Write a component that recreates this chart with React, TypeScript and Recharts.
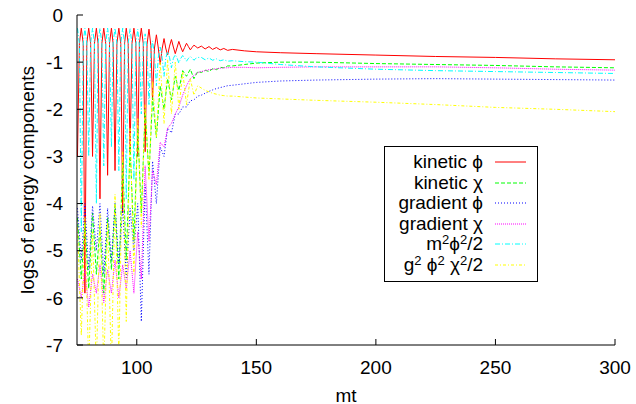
import { LineChart, Line, XAxis, YAxis, Legend } from 'recharts'

// early oscillating stage: fine grid (quarter period) for kinetic phi and potential
const tFine = [
  75.2, 76.0, 76.8, 77.6, 78.3, 79.1, 79.9, 80.7, 81.5, 82.3,
  83.1, 83.8, 84.6, 85.4, 86.2, 87.0, 87.8, 88.6, 89.4, 90.1,
  90.9, 91.7, 92.5, 93.3, 94.1, 94.9, 95.6, 96.4, 97.2, 98.0,
  98.8, 99.6, 100.4, 101.1, 101.9, 102.7, 103.5, 104.3, 105.1, 105.9,
  106.6, 107.4, 108.2, 109.0, 109.8, 110.6, 111.4, 112.1, 112.9, 113.7,
  114.5, 115.3, 116.1, 116.9, 117.6, 118.4, 119.2, 120.0, 120.8, 121.6,
  122.4, 123.1, 123.9, 124.7, 125.5,
]
// half period grid for the other components
const tCoarse = [
  75.2, 76.8, 78.3, 79.9, 81.5, 83.1, 84.6, 86.2, 87.8, 89.4,
  90.9, 92.5, 94.1, 95.6, 97.2, 98.8, 100.4, 101.9, 103.5, 105.1,
  106.6, 108.2, 109.8, 111.4, 112.9, 114.5, 116.1, 117.6, 119.2, 120.8,
  122.4, 123.9, 125.5,
]
const tTail = [127, 128.6, 130.2, 131.7, 133.3, 134.9, 136.4, 138, 140, 145, 150, 160, 175, 200, 225, 250, 275, 300]

const kineticPhiEarly = [
  -3.0, -0.6, -0.28, -0.6, -5.9, -0.6, -0.28, -0.6, -3.0, -0.6,
  -0.28, -0.6, -3.9, -0.6, -0.28, -0.6, -3.4, -0.6, -0.28, -0.6,
  -3.3, -0.6, -0.28, -0.6, -4.2, -0.6, -0.28, -0.6, -2.9, -0.6,
  -0.28, -0.6, -3.0, -0.6, -0.28, -0.6, -2.9, -0.62, -0.3, -0.65,
  -1.8, -0.7, -0.42, -0.7, -1.05, -0.72, -0.5, -0.7, -0.85, -0.66,
  -0.52, -0.68, -0.82, -0.68, -0.56, -0.68, -0.78, -0.69, -0.6, -0.67,
  -0.74, -0.69, -0.64, -0.67, -0.7,
]
const kineticPhiLate = [-0.66, -0.72, -0.67, -0.73, -0.69, -0.74, -0.71, -0.75, -0.73, -0.76, -0.78, -0.8, -0.82, -0.85, -0.88, -0.9, -0.93, -0.95]

const potentialEarly = [
  -0.28, -0.6, -4.6, -0.6, -0.28, -0.6, -3.0, -0.6, -0.28, -0.6,
  -4.0, -0.6, -0.28, -0.6, -3.2, -0.6, -0.28, -0.6, -2.8, -0.6,
  -0.28, -0.6, -3.3, -0.6, -0.28, -0.6, -3.9, -0.6, -0.29, -0.62,
  -3.5, -0.64, -0.3, -0.66, -2.1, -0.7, -0.4, -0.75, -1.9, -0.8,
  -0.55, -0.85, -1.5, -0.9, -0.68, -0.9, -1.3, -0.92, -0.78, -0.9,
  -1.12, -0.92, -0.84, -0.92, -1.02, -0.92, -0.86, -0.91, -0.98, -0.92,
  -0.88, -0.91, -0.96, -0.92, -0.9,
]
const potentialLate = [-0.9, -0.95, -0.91, -0.96, -0.93, -0.97, -0.95, -0.98, -0.97, -0.99, -1.0, -1.05, -1.1, -1.15, -1.18, -1.2, -1.22, -1.24]

const kineticChiEarly = [
  -4.3, -5.6, -4.4, -5.8, -4.2, -5.5, -4.5, -5.9, -4.3, -5.4,
  -4.0, -5.6, -3.1, -5.2, -2.8, -4.8, -2.4, -4.2, -2.0, -3.4,
  -1.75, -2.6, -1.5, -2.0, -1.35, -1.8, -1.3, -1.6, -1.18, -1.3,
  -1.15, -1.35, -1.2,
]
const kineticChiLate = [-1.22, -1.17, -1.2, -1.14, -1.16, -1.11, -1.12, -1.08, -1.08, -1.05, -1.02, -1.0, -1.0, -1.03, -1.05, -1.07, -1.1, -1.12]

const gradPhiEarly = [
  -4.1, -5.2, -4.0, -5.4, -4.05, -5.0, -4.0, -5.5, -4.1, -5.2,
  -4.0, -5.3, -4.05, -5.6, -4.1, -5.0, -4.0, -6.5, -3.6, -5.5,
  -3.1, -4.0, -2.8, -3.0, -2.4, -2.5, -2.1, -2.1, -1.95, -1.95,
  -1.82, -1.8, -1.72,
]
const gradPhiLate = [-1.7, -1.66, -1.62, -1.59, -1.56, -1.54, -1.52, -1.5, -1.49, -1.46, -1.43, -1.4, -1.38, -1.36, -1.35, -1.36, -1.37, -1.38]

const gradChiEarly = [
  -5.6, -6.0, -5.4, -6.2, -5.5, -5.9, -5.3, -6.1, -5.4, -5.9,
  -5.2, -6.0, -5.3, -5.8, -5.0, -5.9, -4.6, -5.6, -3.2, -4.8,
  -3.3, -3.6, -2.7, -2.8, -2.4, -2.3, -2.1, -1.95, -1.7, -1.5,
  -1.35, -1.28, -1.22,
]
const gradChiLate = [-1.2, -1.18, -1.16, -1.15, -1.14, -1.13, -1.12, -1.12, -1.11, -1.11, -1.12, -1.11, -1.1, -1.1, -1.1, -1.12, -1.15, -1.17]

const interactionEarly = [
  -4.5, -6.8, -4.3, -7.5, -4.6, -7.5, -4.2, -7.5, -4.4, -7.5,
  -3.8, -7.2, -2.9, -6.5, -2.4, -5.5, -2.2, -4.5, -1.9, -3.5,
  -1.4, -2.6, -1.0, -2.3, -0.95, -2.1, -1.0, -2.0, -1.2, -1.9,
  -1.35, -1.7, -1.5,
]
const interactionLate = [-1.55, -1.6, -1.63, -1.66, -1.68, -1.7, -1.71, -1.72, -1.72, -1.74, -1.76, -1.78, -1.81, -1.85, -1.9, -1.96, -2.0, -2.05]

const xTicks = [100, 150, 200, 250, 300]
const yTicks = [0, -1, -2, -3, -4, -5, -6, -7]

const zip = (t: number[], v: number[]) => t.map((x, i) => ({ t: x, v: v[i] }))

const FONT = '"Liberation Sans", Arial, Helvetica, sans-serif'
const PHI = '\u03D5'
const CHI = '\u03C7'

const series = [
  { key: 'kphi', color: '#ff0000', dash: undefined, data: [...zip(tFine, kineticPhiEarly), ...zip(tTail, kineticPhiLate)] },
  { key: 'kchi', color: '#00ff00', dash: '4 2', data: [...zip(tCoarse, kineticChiEarly), ...zip(tTail, kineticChiLate)] },
  { key: 'gphi', color: '#0000ff', dash: '1 2', data: [...zip(tCoarse, gradPhiEarly), ...zip(tTail, gradPhiLate)] },
  { key: 'gchi', color: '#ff00ff', dash: '1 1', data: [...zip(tCoarse, gradChiEarly), ...zip(tTail, gradChiLate)] },
  { key: 'pot', color: '#00ffff', dash: '5 2 1 2', data: [...zip(tFine, potentialEarly), ...zip(tTail, potentialLate)] },
  { key: 'int', color: '#ffff00', dash: '3 2 1 2', data: [...zip(tCoarse, interactionEarly), ...zip(tTail, interactionLate)] },
]

const sup = (s: string) => (
  <span style={{ fontSize: 13, position: 'relative', top: -6, lineHeight: 0 }}>{s}</span>
)

const legendLabels = [
  <>kinetic {PHI}</>,
  <>kinetic {CHI}</>,
  <>gradient {PHI}</>,
  <>gradient {CHI}</>,
  <>m{sup('2')}{PHI}{sup('2')}/2</>,
  <>g{sup('2')} {PHI}{sup('2')} {CHI}{sup('2')}/2</>,
]

function LegendBox() {
  return (
    <div
      style={{
        border: '1px solid #000',
        background: '#fff',
        width: 152,
        height: 129,
        paddingTop: 5,
        boxSizing: 'content-box',
        fontFamily: FONT,
        fontSize: 19,
        color: '#000',
      }}
    >
      {series.map((s, i) => (
        <div key={s.key} style={{ display: 'flex', alignItems: 'center', height: 20.5, lineHeight: '20.5px' }}>
          <div style={{ width: 98, textAlign: 'right', whiteSpace: 'nowrap' }}>{legendLabels[i]}</div>
          <svg width={31} height={20} style={{ marginLeft: 12 }}>
            <line x1={0} x2={31} y1={10} y2={10} stroke={s.color} strokeWidth={1} strokeDasharray={s.dash} />
          </svg>
        </div>
      ))}
    </div>
  )
}

function YLabel(props: any) {
  const vb = props.viewBox || { x: 0, y: 15, width: 77, height: 330 }
  const cx = vb.x + 27
  const cy = vb.y + vb.height / 2
  return (
    <text x={cx} y={cy} transform={`rotate(-90 ${cx} ${cy})`} textAnchor="middle" dominantBaseline="central" fontSize={19} fontFamily={FONT} fill="#000">
      logs of energy components
    </text>
  )
}

function XLabel(props: any) {
  const vb = props.viewBox || { x: 77, y: 345, width: 538, height: 59 }
  return (
    <text x={vb.x + vb.width / 2} y={vb.y + 50} textAnchor="middle" dominantBaseline="central" fontSize={19} fontFamily={FONT} fill="#000">
      mt
    </text>
  )
}

export default function App() {
  const tickStyle = { fill: '#000', fontSize: 19, fontFamily: FONT }
  return (
    <div style={{ position: 'absolute', left: 0, top: 0, width: 636, height: 404, background: '#fff' }}>
      <LineChart width={636} height={404} margin={{ top: 15, right: 21, left: 0, bottom: 0 }} style={{ fontFamily: FONT }}>
        <XAxis
          xAxisId="b"
          dataKey="t"
          type="number"
          domain={[75, 300]}
          ticks={xTicks}
          allowDataOverflow
          height={59}
          stroke="#000"
          tick={tickStyle}
          tickSize={-6}
          tickMargin={22}
          label={<XLabel />}
        />
        <XAxis
          xAxisId="top"
          orientation="top"
          dataKey="t"
          type="number"
          domain={[75, 300]}
          ticks={xTicks}
          allowDataOverflow
          height={0}
          stroke="#000"
          tick={false}
          tickSize={-6}
        />
        <YAxis
          yAxisId="l"
          type="number"
          domain={[-7, 0]}
          ticks={yTicks}
          allowDataOverflow
          width={77}
          stroke="#000"
          tick={tickStyle}
          tickSize={-6}
          tickMargin={20}
          label={<YLabel />}
        />
        <YAxis
          yAxisId="r"
          orientation="right"
          type="number"
          domain={[-7, 0]}
          ticks={yTicks}
          allowDataOverflow
          width={0}
          stroke="#000"
          tick={false}
          tickSize={-6}
        />
        <Legend
          layout="horizontal"
          verticalAlign="middle"
          align="center"
          width={154}
          wrapperStyle={{ left: 384, top: 146, width: 154, height: 136 }}
          content={() => <LegendBox />}
        />
        {series.map((s) => (
          <Line
            key={s.key}
            xAxisId="b"
            yAxisId="l"
            data={s.data}
            dataKey="v"
            type="linear"
            stroke={s.color}
            strokeWidth={1}
            strokeDasharray={s.dash}
            dot={false}
            activeDot={false}
            isAnimationActive={false}
          />
        ))}
      </LineChart>
    </div>
  )
}
